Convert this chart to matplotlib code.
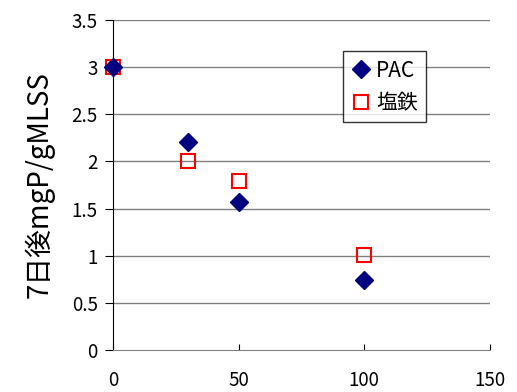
import matplotlib
matplotlib.use('Agg')
import matplotlib.pyplot as plt

plt.rcParams['font.family'] = ['Noto Sans CJK JP', 'DejaVu Sans']

# data
x_pac = [0, 30, 50, 100]
y_pac = [3.0, 2.21, 1.57, 0.74]
x_fe = [0, 30, 50, 100]
y_fe = [3.0, 2.01, 1.79, 1.01]

xticks = [0, 50, 100, 150]
yticks = [0, 0.5, 1, 1.5, 2, 2.5, 3, 3.5]
ytick_labels = ['0', '0.5', '1', '1.5', '2', '2.5', '3', '3.5']

fig = plt.figure(figsize=(5.17, 3.92), dpi=100)
ax = fig.add_axes([0.2186, 0.107, 0.729, 0.842])

for yv in yticks[1:]:
    ax.axhline(yv, color='#808080', lw=1, zorder=0)

ax.plot(x_pac, y_pac, linestyle='none', marker='D', markersize=9,
        color='#000080', label='PAC', zorder=3, clip_on=False)
ax.plot(x_fe, y_fe, linestyle='none', marker='s', markersize=10.5,
        markerfacecolor='none', markeredgecolor='#ff0000', markeredgewidth=1.5,
        label='塩鉄', zorder=2, clip_on=False)

ax.set_xlim(0, 150)
ax.set_ylim(0, 3.5)
ax.set_xticks(xticks)
ax.set_yticks(yticks)
ax.set_yticklabels(ytick_labels)
ax.tick_params(axis='x', direction='in', length=4, pad=14, labelsize=13.5)
ax.tick_params(axis='y', direction='out', length=6, pad=5, labelsize=13.5)

ax.spines['top'].set_visible(False)
ax.spines['right'].set_visible(False)
ax.spines['left'].set_color('black')
ax.spines['bottom'].set_color('#808080')

ax.set_ylabel('7日後mgP/gMLSS', fontsize=20, labelpad=12)

leg = ax.legend(loc='upper left', bbox_to_anchor=(0.61, 0.905), frameon=True,
                fancybox=False, edgecolor='black', fontsize=15,
                handletextpad=0.3, borderpad=0.4, labelspacing=0.5,
                handlelength=0.9, borderaxespad=0)
leg.get_frame().set_linewidth(1.0)

fig.savefig('out.png', dpi=100)
